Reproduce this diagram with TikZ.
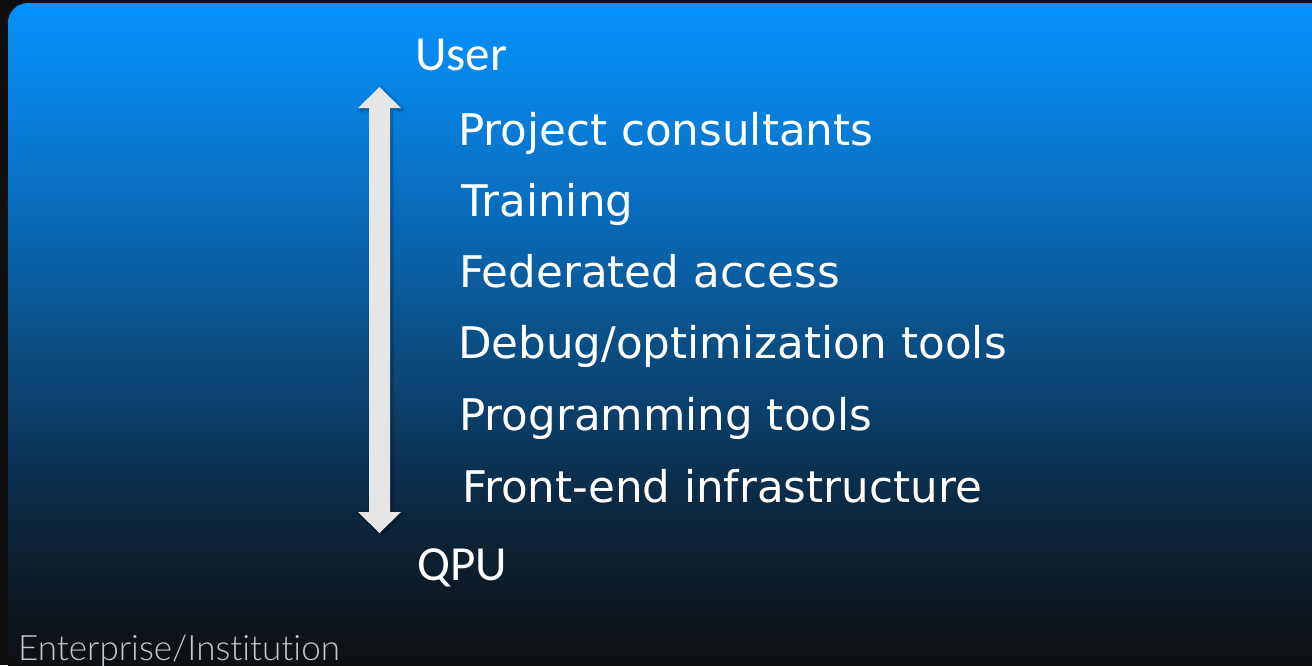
\documentclass[tikz,border=0pt]{standalone}
\usepackage{fontspec}
\setmainfont{DejaVu Sans}
\newfontfamily\carlitofont{Carlito}
\newfontfamily\thinfont[Ligatures={NoCommon,NoRare}]{Lato Light}
\usetikzlibrary{shadows,shadows.blur}
\definecolor{frame}{HTML}{0F0F0F}
\definecolor{arrowgray}{HTML}{E6E6E6}
\definecolor{footgray}{HTML}{C4C8CC}
\definecolor{g0}{RGB}{5,146,252}
\definecolor{g1}{RGB}{8,130,225}
\definecolor{g2}{RGB}{9,110,190}
\definecolor{g3}{RGB}{10,88,150}
\definecolor{g4}{RGB}{11,65,110}
\definecolor{g5}{RGB}{11,42,68}
\definecolor{g6}{RGB}{14,24,34}
\definecolor{g7}{RGB}{14,16,18}
\tikzset{
  item/.style={anchor=base west, text=white, inner sep=0pt, font=\fontsize{43.6}{50}\selectfont},
  endlabel/.style={anchor=base west, text=white, inner sep=0pt, font=\carlitofont\fontsize{49}{58}\selectfont},
  band/.style 2 args={top color=#1, bottom color=#2, draw=none},
}
\begin{document}
\begin{tikzpicture}[x=1pt,y=-1pt]
\useasboundingbox (0,0) rectangle (1312,665);
\fill[frame] (0,0) rectangle (1312,665);
\begin{scope}
\clip (8,666) -- (8,23) arc[start angle=180,end angle=270,radius=20] -- (1313,3) -- (1313,666) -- cycle;
\shade[band={g0}{g1}] (0,0) rectangle (1313,100.5);
\shade[band={g1}{g2}] (0,100) rectangle (1313,200.5);
\shade[band={g2}{g3}] (0,200) rectangle (1313,300.5);
\shade[band={g3}{g4}] (0,300) rectangle (1313,400.5);
\shade[band={g4}{g5}] (0,400) rectangle (1313,500.5);
\shade[band={g5}{g6}] (0,500) rectangle (1313,600.5);
\shade[band={g6}{g7}] (0,600) rectangle (1313,666);
\end{scope}
% double arrow
\coordinate (tt) at (379.5,87);
\coordinate (bt) at (379.5,533);
\fill[arrowgray, blur shadow={shadow xshift=2pt,shadow yshift=-2pt,shadow blur steps=5,shadow opacity=40,shadow blur radius=3pt}]
  (tt) -- (401,108) -- (390,108) -- (390,512) -- (401,512) -- (bt) -- (358,512) -- (369,512) -- (369,108) -- (358,108) -- cycle;
\node[endlabel] (user) at (415,70) {User};
\node[endlabel] (qpu) at (417,580) {QPU};
\node[item] (i1) at (458,145) {Project consultants};
\node[item] (i2) at (461,216) {Training};
\node[item] (i3) at (459,287) {Federated access};
\node[item] (i4) at (458,358) {Debug/optimization tools};
\node[item] (i5) at (459,430) {Programming tools};
\node[item] (i6) at (462,502) {Front-end infrastructure};
\node[anchor=base west, inner sep=0pt, text=footgray, font=\thinfont\fontsize{35}{42}\selectfont] (foot) at (18,660) {Enterprise/Institution};
\end{tikzpicture}
\end{document}
